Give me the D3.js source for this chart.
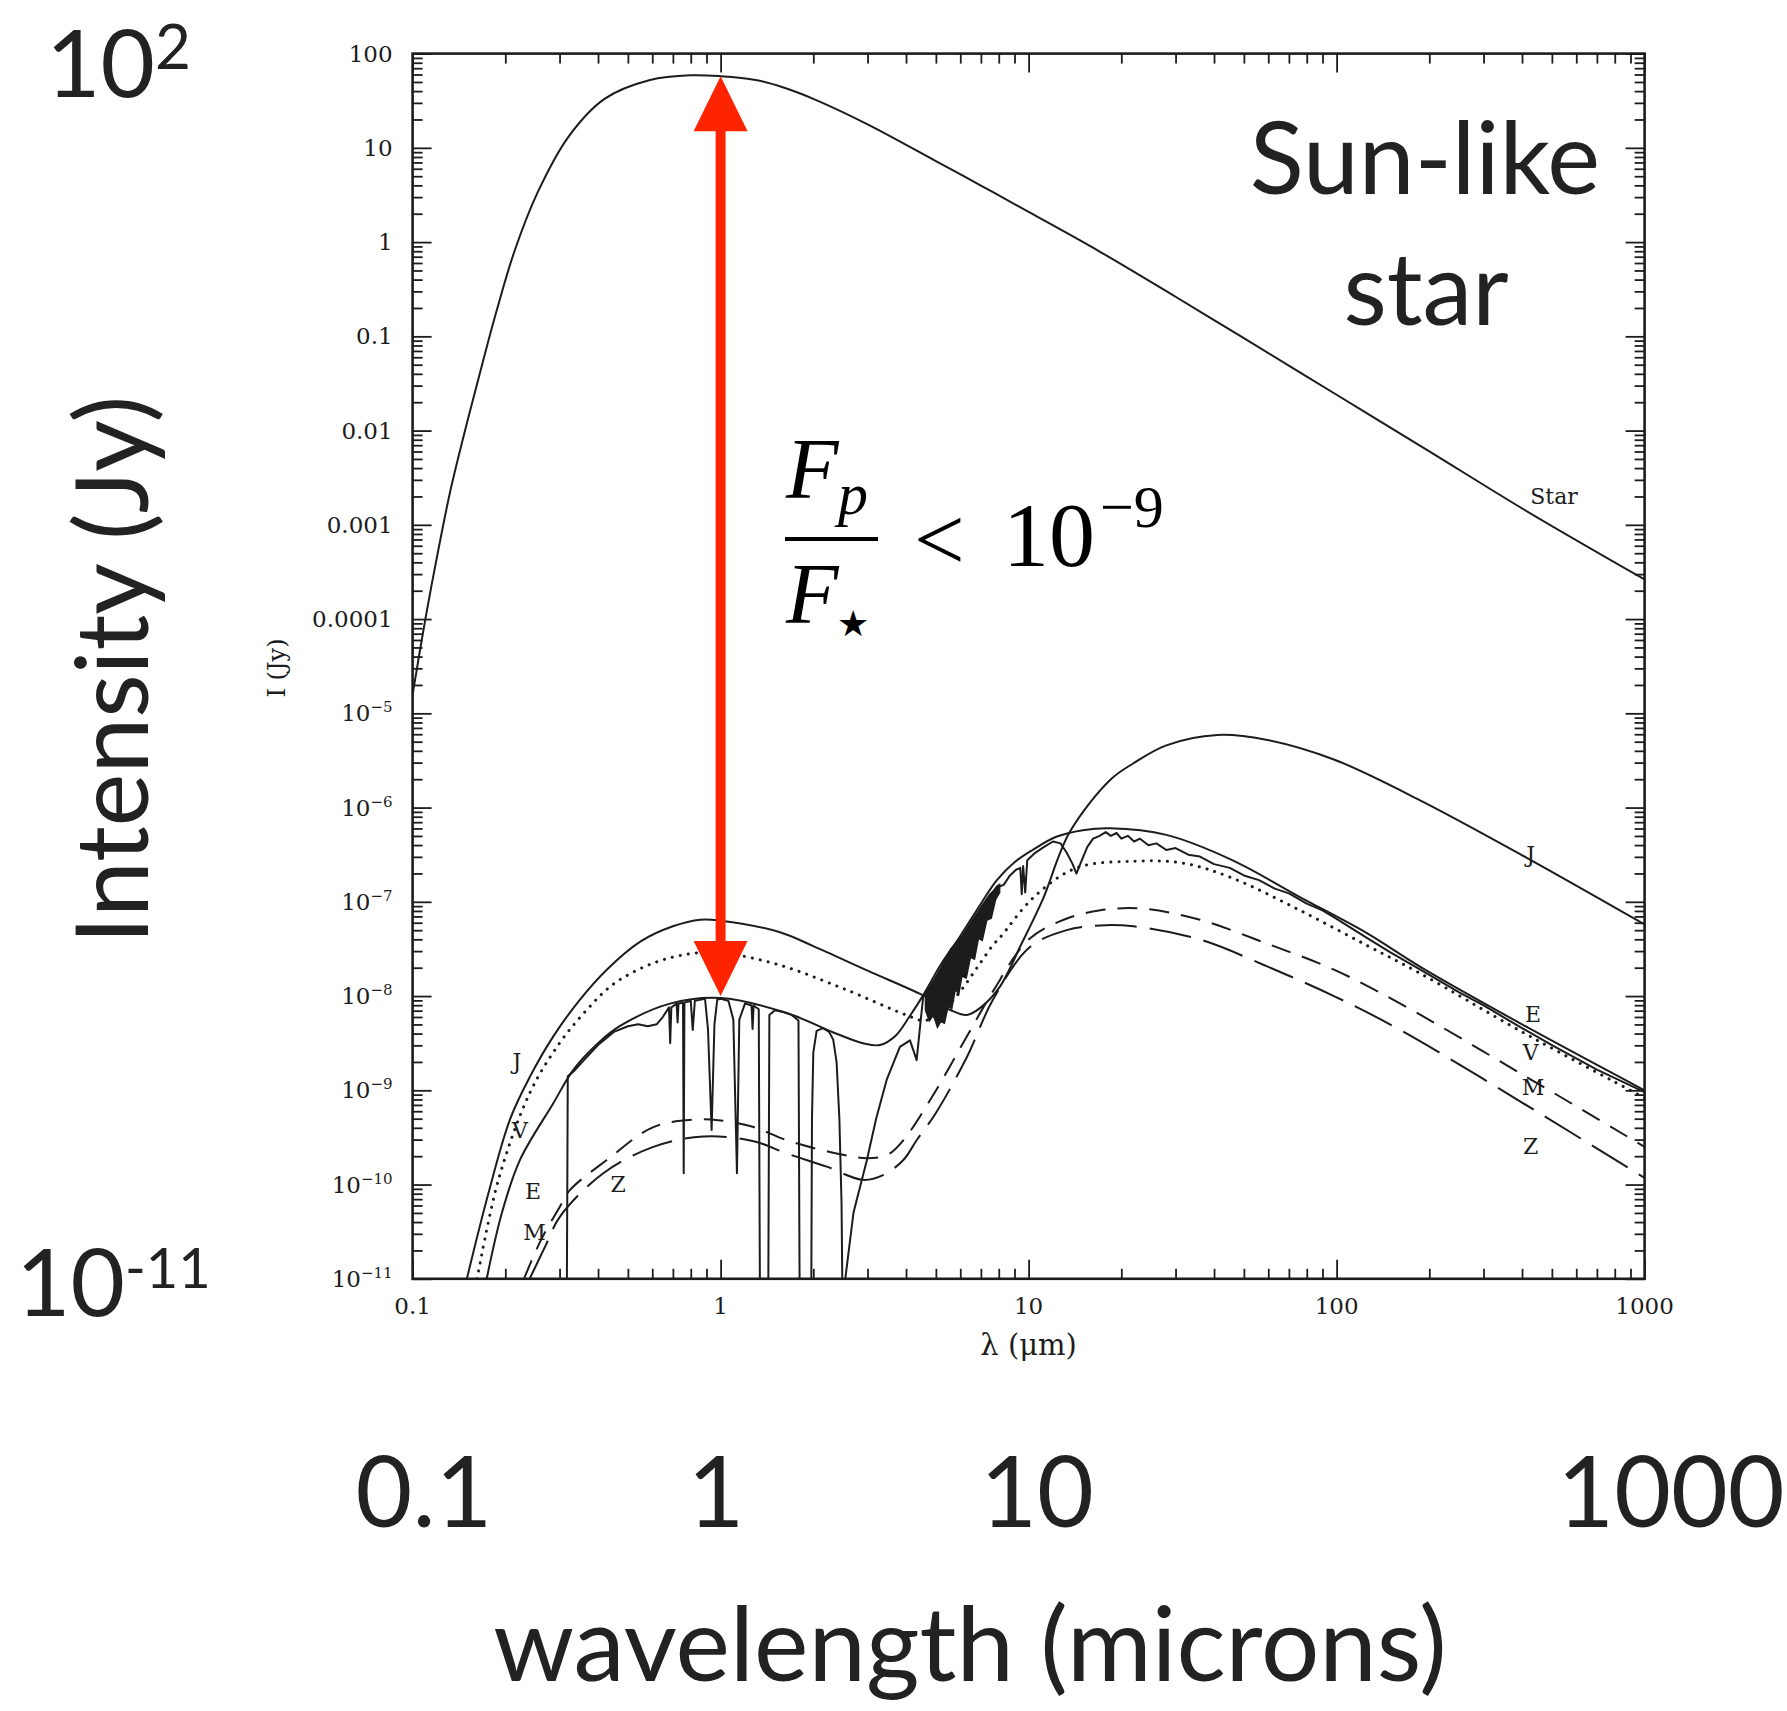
<!DOCTYPE html>
<html lang="en">
<head>
<meta charset="UTF-8">
<title>Sun-like star and planets: intensity vs wavelength</title>
<script src="https://d3js.org/d3.v7.min.js"></script>
<style>
  body { margin: 0; background: #fff; }
</style>
</head>
<body>
<svg width="1787" height="1711"></svg>
<script>
// every curve: [wavelength in microns, log10 of intensity in Jy]
const star = [[0.1,-4.8],[0.11,-4.0],[0.12,-3.34],[0.133,-2.62],[0.152,-1.85],[0.17,-1.24],[0.187,-0.74],
  [0.214,-0.1],[0.254,0.52],[0.321,1.12],[0.42,1.52],[0.59,1.72],[0.8,1.77],[1.0,1.76],[1.3,1.72],[1.6,1.64],
  [2,1.52],[3,1.25],[5,0.86],[7,0.6],[10,0.32],[17,-0.1],[30,-0.58],[50,-1.02],[100,-1.62],[200,-2.22],
  [407,-2.84],[1000,-3.58]];

const jupiter = [[0.15,-11.0],[0.176,-10.1],[0.207,-9.31],[0.24,-8.86],[0.286,-8.43],[0.349,-8.04],[0.427,-7.72],
  [0.55,-7.42],[0.7,-7.26],[0.86,-7.19],[1.0,-7.2],[1.55,-7.32],[2.0,-7.47],[3.0,-7.73],[4.53,-7.99],[5.5,-8.14],
  [6.3,-8.2],[7.0,-8.12],[8.07,-7.9],[9.5,-7.44],[11.1,-6.98],[13.6,-6.26],[18.5,-5.7],[21.9,-5.53],[28,-5.34],
  [41,-5.23],[59,-5.28],[98,-5.49],[186,-5.92],[413,-6.53],[1000,-7.24]];

const venus = [[0.162,-11.0],[0.19,-9.95],[0.24,-9.03],[0.3,-8.5],[0.367,-8.15],[0.45,-7.87],[0.605,-7.65],
  [0.8,-7.55],[1.0,-7.54],[1.55,-7.67],[2.5,-7.92],[4.0,-8.2],[4.6,-8.26],[5.3,-8.15],[6.0,-7.95],[6.8,-7.7],
  [7.7,-7.45],[8.07,-7.38],[10.4,-6.95],[14.3,-6.64],[21.9,-6.57],[31.8,-6.59],[46,-6.75],[76,-7.09],
  [125,-7.46],[187,-7.76],[400,-8.38],[1000,-9.08]];

const earthSmooth = [[0.174,-11.0],[0.195,-10.3],[0.223,-9.74],[0.286,-9.14],[0.333,-8.78],[0.4,-8.5],[0.47,-8.32],
  [0.685,-8.08],[1.0,-8.02],[1.64,-8.18],[2.38,-8.40],[2.9,-8.50],[3.29,-8.52],[3.7,-8.42],[4.1,-8.22],
  [4.55,-7.99],[5.2,-7.66],[5.98,-7.37],[7.0,-7.02],[7.89,-6.77],[9.0,-6.58],[10.3,-6.45],[12.3,-6.31],
  [15,-6.24],[18.4,-6.22],[28,-6.29],[46,-6.56],[76,-6.95],[125,-7.33],[187,-7.69],[400,-8.3],[1000,-9.0]];

// Earth spectrum with its absorption bands (values below -11 fall off the bottom of the plot)
const earthSpectrum = [[0.316,-12],[0.319,-8.85],[0.333,-8.8],[0.36,-8.68],[0.4,-8.52],[0.45,-8.38],[0.5,-8.32],
  [0.54,-8.3],[0.58,-8.32],[0.62,-8.3],[0.65,-8.22],[0.68,-8.12],[0.686,-8.5],[0.692,-8.12],[0.72,-8.08],
  [0.725,-8.28],[0.73,-8.08],[0.755,-8.07],[0.759,-9.88],[0.763,-8.07],[0.8,-8.05],[0.812,-8.36],[0.825,-8.05],
  [0.89,-8.03],[0.91,-8.35],[0.935,-9.42],[0.955,-8.3],[0.975,-8.04],[1.0,-8.03],[1.06,-8.05],[1.1,-8.25],
  [1.13,-9.88],[1.15,-8.25],[1.2,-8.08],[1.26,-8.1],[1.27,-8.35],[1.28,-8.1],[1.33,-8.14],[1.345,-12],
  [1.425,-12],[1.44,-8.2],[1.5,-8.15],[1.6,-8.17],[1.7,-8.2],[1.79,-8.26],[1.81,-12],[1.965,-12],[1.98,-9.3],
  [2.0,-8.6],[2.05,-8.37],[2.15,-8.34],[2.25,-8.38],[2.32,-8.46],[2.38,-8.7],[2.43,-9.3],[2.47,-10.2],[2.5,-12],
  [2.54,-11.0],[2.7,-10.3],[2.98,-9.75],[3.2,-9.3],[3.46,-8.89],[3.82,-8.54],[4.12,-8.47],[4.25,-8.6],
  [4.33,-8.68],[4.45,-8.3],[4.55,-8.0],[4.8,-7.9],[5.2,-7.7],[5.6,-7.5],[6.0,-7.4],[6.5,-7.22],[7.0,-7.06],
  [7.5,-6.92],[8.0,-6.84],[8.3,-6.82],[8.7,-6.72],
  [9.1,-6.66],[9.4,-6.64],[9.5,-6.92],[9.6,-6.62],[9.75,-6.9],[9.9,-6.56],[10.5,-6.48],[11.2,-6.42],
  [12,-6.36],[12.7,-6.38],[13.3,-6.48],[13.9,-6.6],[14.3,-6.7],[14.8,-6.58],[15.5,-6.42],[16.2,-6.33],
  [17,-6.3],[17.8,-6.26],[18.5,-6.3],[19.3,-6.27],[20,-6.33],[21,-6.3],[22,-6.36],[23,-6.33],[24.5,-6.4],
  [26,-6.38],[28,-6.45],[30,-6.43],[33,-6.5],[36,-6.52],[40,-6.6],[45,-6.64],[50,-6.72],[56,-6.77],
  [63,-6.86],[70,-6.91],[80,-7.02],[90,-7.09],[100,-7.18],[125,-7.38],[150,-7.54],[187,-7.72],[250,-7.96],
  [300,-8.1],[400,-8.34],[500,-8.52],[700,-8.78],[1000,-9.02]];

// unresolved water band of the Earth spectrum: [wavelength, upper edge, ragged lower edge]
const earthBand = [[4.6,-7.96,-8.15],[4.75,-7.9,-8.28],[4.9,-7.83,-8.22],[5.05,-7.76,-8.35],[5.2,-7.69,-8.28],
  [5.35,-7.62,-8.3],[5.5,-7.55,-8.12],[5.65,-7.49,-8.15],[5.8,-7.44,-7.95],[5.95,-7.39,-8.0],[6.1,-7.35,-7.8],
  [6.3,-7.29,-7.82],[6.5,-7.22,-7.6],[6.7,-7.15,-7.62],[6.9,-7.08,-7.4],[7.1,-7.02,-7.42],[7.35,-6.95,-7.2],
  [7.6,-6.89,-7.18],[7.85,-6.83,-6.98],[8.1,-6.8,-6.9]];

const mars = [[0.23,-11.0],[0.26,-10.6],[0.3,-10.24],[0.324,-10.06],[0.427,-9.74],[0.605,-9.39],[0.836,-9.31],
  [1.0,-9.32],[1.28,-9.39],[1.64,-9.53],[2.38,-9.67],[3.0,-9.72],[3.5,-9.68],[3.92,-9.53],[4.9,-9.05],
  [6.3,-8.43],[7.66,-7.95],[10,-7.4],[13,-7.19],[17.1,-7.09],[23,-7.07],[36,-7.19],[59,-7.44],[98,-7.72],
  [161,-8.08],[400,-8.83],[1000,-9.6]];

const zodiacal = [[0.24,-11.0],[0.27,-10.65],[0.301,-10.34],[0.416,-9.88],[0.605,-9.6],[0.879,-9.49],
  [1.28,-9.54],[1.64,-9.67],[2.21,-9.81],[2.9,-9.95],[3.37,-9.9],[3.92,-9.74],[4.33,-9.53],[5.0,-9.24],
  [6.3,-8.65],[7.66,-8.04],[10.1,-7.48],[13.3,-7.30],[17.1,-7.25],[21.9,-7.26],[36,-7.40],[59,-7.68],
  [98,-8.0],[161,-8.36],[400,-9.13],[1000,-9.93]];

// curve labels: [text, wavelength, log10 intensity at the baseline]
const curveLabels = [["Star",508,-2.78],["J",427,-6.58],["E",434,-8.27],["V",427,-8.68],["M",434,-9.05],
  ["Z",427,-9.68],["J",0.218,-8.77],["V",0.223,-9.51],["E",0.246,-10.15],["M",0.249,-10.59],["Z",0.465,-10.08]];

const xTicks = [0.1, 1, 10, 100, 1000];
const xTickLabels = ["0.1", "1", "10", "100", "1000"];
const yTicks = [1e2, 1e1, 1, 1e-1, 1e-2, 1e-3, 1e-4, 1e-5, 1e-6, 1e-7, 1e-8, 1e-9, 1e-10, 1e-11];
const yTickLabels = [["100",""],["10",""],["1",""],["0.1",""],["0.01",""],["0.001",""],["0.0001",""],
  ["10","-5"],["10","-6"],["10","-7"],["10","-8"],["10","-9"],["10","-10"],["10","-11"]];

// red arrow between the star's peak and Earth's reflected peak at 1 micron
const arrowTop = [1, 1.76];
const arrowBottom = [1, -8];

const svg = d3.select("svg");
svg.append("rect").attr("width", 1787).attr("height", 1711).attr("fill", "#fff");

const pL = 412.6, pR = 1644.6, pT = 53.6, pB = 1278.8;
const x = d3.scaleLog().domain([0.1, 1000]).range([pL, pR]);
const y = d3.scaleLog().domain([1e-11, 100]).range([pB, pT]);
const yl = v => y(Math.pow(10, v));

// minor tick positions 2..9 in every decade
const xMinor = [], yMinor = [];
xTicks.slice(0, -1).forEach(d => { for (let k = 2; k < 10; k++) xMinor.push(d * k); });
yTicks.slice(1).forEach(d => { for (let k = 2; k < 10; k++) yMinor.push(d * k); });

const ink = "#1c1c1c";

// ticks, all pointing into the frame
function ticks(axis, scale, values, size, tr) {
  const g = svg.append("g").attr("transform", tr)
    .call(axis(scale).tickValues(values).tickSizeInner(size).tickSizeOuter(0).tickFormat(""));
  g.select(".domain").remove();
  g.selectAll(".tick line").attr("stroke", ink).attr("stroke-width", 1.8);
}
ticks(d3.axisBottom, x, xTicks, -19, `translate(0,${pB})`);
ticks(d3.axisBottom, x, xMinor, -10, `translate(0,${pB})`);
ticks(d3.axisTop, x, xTicks, -19, `translate(0,${pT})`);
ticks(d3.axisTop, x, xMinor, -10, `translate(0,${pT})`);
ticks(d3.axisLeft, y, yTicks, -19, `translate(${pL},0)`);
ticks(d3.axisLeft, y, yMinor, -10, `translate(${pL},0)`);
ticks(d3.axisRight, y, yTicks, -19, `translate(${pR},0)`);
ticks(d3.axisRight, y, yMinor, -10, `translate(${pR},0)`);

svg.append("rect")
  .attr("x", pL).attr("y", pT)
  .attr("width", pR - pL).attr("height", pB - pT)
  .attr("fill", "none").attr("stroke", ink).attr("stroke-width", 2.6);

// tick labels
const serif = "'DejaVu Serif', 'Liberation Serif', serif";
svg.append("g").selectAll("text")
  .data(xTicks)
  .join("text")
    .attr("x", d => x(d))
    .attr("y", pB + 35)
    .attr("text-anchor", "middle")
    .attr("font-family", serif)
    .attr("font-size", 23)
    .attr("fill", ink)
    .text((d, i) => xTickLabels[i]);

const yLab = svg.append("g").selectAll("text")
  .data(yTicks)
  .join("text")
    .attr("x", pL - 20)
    .attr("y", d => y(d) + 8)
    .attr("text-anchor", "end")
    .attr("font-family", serif)
    .attr("font-size", 23)
    .attr("fill", ink);
yLab.append("tspan").text((d, i) => yTickLabels[i][0]);
yLab.filter((d, i) => yTickLabels[i][1] !== "")
  .append("tspan")
    .attr("dy", -9)
    .attr("font-size", 15)
    .text(d => yTickLabels[yTicks.indexOf(d)][1].replace("-", "\u2212"));

svg.append("text")
  .attr("transform", "translate(285,668) rotate(-90)")
  .attr("text-anchor", "middle")
  .attr("font-family", serif)
  .attr("font-size", 24)
  .attr("fill", ink)
  .text("I (Jy)");

svg.append("text")
  .attr("x", x(10)).attr("y", pB + 76)
  .attr("text-anchor", "middle")
  .attr("font-family", serif)
  .attr("font-size", 29)
  .attr("fill", ink)
  .text("\u03bb (\u03bcm)");

// curves
svg.append("clipPath").attr("id", "plot")
  .append("rect").attr("x", pL).attr("y", pT).attr("width", pR - pL).attr("height", pB - pT);
const plot = svg.append("g").attr("clip-path", "url(#plot)");

const smooth = d3.line().x(d => x(d[0])).y(d => yl(d[1])).curve(d3.curveCatmullRom.alpha(0.5));
const jagged = d3.line().x(d => x(d[0])).y(d => yl(d[1]));

plot.append("path")
  .attr("d", d3.area().x(d => x(d[0])).y0(d => yl(d[2])).y1(d => yl(d[1]))(earthBand))
  .attr("fill", ink);

const curves = [
  { data: star, line: smooth, dash: null, w: 2 },
  { data: jupiter, line: smooth, dash: null, w: 2 },
  { data: earthSmooth, line: smooth, dash: null, w: 2 },
  { data: earthSpectrum, line: jagged, dash: null, w: 2 },
  { data: venus, line: smooth, dash: "0.1,8", w: 3 },
  { data: mars, line: smooth, dash: "20,12", w: 2 },
  { data: zodiacal, line: smooth, dash: "42,13", w: 2 }
];
plot.selectAll("path.curve")
  .data(curves)
  .join("path")
    .attr("class", "curve")
    .attr("d", c => c.line(c.data))
    .attr("fill", "none")
    .attr("stroke", ink)
    .attr("stroke-width", c => c.w)
    .attr("stroke-linecap", c => c.dash && c.dash.startsWith("0.1") ? "round" : "butt")
    .attr("stroke-linejoin", "round")
    .attr("stroke-dasharray", c => c.dash);

plot.selectAll("text.lab")
  .data(curveLabels)
  .join("text")
    .attr("class", "lab")
    .attr("x", d => x(d[1]))
    .attr("y", d => yl(d[2]))
    .attr("text-anchor", "middle")
    .attr("font-family", serif)
    .attr("font-size", 22)
    .attr("fill", ink)
    .text(d => d[0]);

// red double arrow
const red = "#ff2400";
const ax = x(arrowTop[0]), ay1 = yl(arrowTop[1]), ay2 = yl(arrowBottom[1]);
svg.append("line")
  .attr("x1", ax).attr("x2", ax)
  .attr("y1", ay1 + 40).attr("y2", ay2 - 40)
  .attr("stroke", red).attr("stroke-width", 10);
svg.append("path")
  .attr("d", `M${ax},${ay1} L${ax - 27},${ay1 + 55} L${ax + 27},${ay1 + 55} Z`)
  .attr("fill", red);
svg.append("path")
  .attr("d", `M${ax},${ay2} L${ax - 27},${ay2 - 55} L${ax + 27},${ay2 - 55} Z`)
  .attr("fill", red);

// flux ratio formula
const mathFont = "'Liberation Serif', serif";
const math = svg.append("g").attr("font-family", mathFont).attr("fill", "#000");
math.append("text").attr("x", 786).attr("y", 498).attr("font-size", 86).attr("font-style", "italic").text("F");
math.append("text").attr("x", 838).attr("y", 514).attr("font-size", 60).attr("font-style", "italic").text("p");
math.append("line").attr("x1", 785).attr("x2", 878).attr("y1", 539).attr("y2", 539)
  .attr("stroke", "#000").attr("stroke-width", 4);
math.append("text").attr("x", 786).attr("y", 623).attr("font-size", 86).attr("font-style", "italic").text("F");
math.append("text").attr("x", 837).attr("y", 636).attr("font-size", 36).attr("font-family", "'DejaVu Sans'").text("\u2605");
math.append("text").attr("x", 914).attr("y", 570).attr("font-size", 90).text("<");
math.append("text").attr("x", 1003).attr("y", 566).attr("font-size", 92).text("10");
math.append("text").attr("x", 1100).attr("y", 527).attr("font-size", 60).text("\u22129");

// large slide annotations
const sans = "Lato, 'Open Sans', sans-serif";
const big = svg.append("g").attr("font-family", sans).attr("fill", "#222");
const t1 = big.append("text").attr("x", 46).attr("y", 97).attr("font-size", 94);
t1.append("tspan").text("10");
t1.append("tspan").attr("dy", -28).attr("font-size", 62).text("2");
const t2 = big.append("text").attr("x", 16).attr("y", 1316).attr("font-size", 94);
t2.append("tspan").text("10");
t2.append("tspan").attr("dy", -28).attr("font-size", 56).text("-11");
big.append("text")
  .attr("transform", "translate(148,670) rotate(-90)")
  .attr("text-anchor", "middle").attr("font-size", 100)
  .text("Intensity (Jy)");
big.append("text").attr("x", 1425).attr("y", 194).attr("text-anchor", "middle").attr("font-size", 100).text("Sun-like");
big.append("text").attr("x", 1426).attr("y", 325).attr("text-anchor", "middle").attr("font-size", 100).text("star");

const bigX = [[0.1, 424], [1, 716], [10, 1037], [1000, 1671]];
big.selectAll("text.bx")
  .data(bigX)
  .join("text")
    .attr("class", "bx")
    .attr("x", d => d[1])
    .attr("y", 1527)
    .attr("text-anchor", "middle")
    .attr("font-size", 98)
    .text(d => String(d[0]));
big.append("text").attr("x", 970).attr("y", 1681).attr("text-anchor", "middle").attr("font-size", 103)
  .text("wavelength (microns)");
</script>
</body>
</html>
